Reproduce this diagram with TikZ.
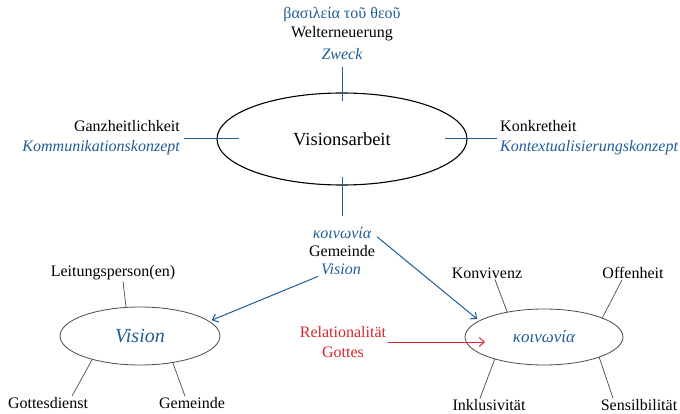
\documentclass[tikz,border=0pt]{standalone}
\usepackage{fontspec}
\setmainfont{Liberation Serif}
\usetikzlibrary{shapes.geometric,arrows.meta,calc}
\definecolor{gblue}{HTML}{1F5C99}
\definecolor{gred}{HTML}{D7262B}
\definecolor{ggray}{HTML}{4A4A4A}
\begin{document}
\begin{tikzpicture}[x=1pt,y=-1pt,
  lbl/.style={inner sep=1pt, font=\fontsize{16}{20}\selectfont},
  ilbl/.style={inner sep=1pt, font=\fontsize{16}{20}\selectfont\itshape},
  bl/.style={gblue, line width=1pt},
  gl/.style={ggray, line width=0.7pt},
  barrow/.style={gblue, line width=1pt, -{Straight Barb[length=5pt,width=9pt]}},
  rarrow/.style={gred, line width=1pt, -{Straight Barb[length=5pt,width=9pt]}},
  ell/.style={ellipse, inner sep=0pt, outer sep=0pt}
  ]
\useasboundingbox (0,0) rectangle (680,414);

% central ellipse
\node[ell, draw, line width=1.1pt, minimum width=250pt, minimum height=92pt,
  font=\fontsize{18.5}{22}\selectfont] (va) at (342,139) {Visionsarbeit};

% top
\node[lbl, text=gblue] (t1) at (342,15) {βασιλεία τοῦ θεοῦ};
\node[lbl] (t2) at (342,34) {Welterneuerung};
\node[ilbl, text=gblue] (t3) at (342,54) {Zweck};
\draw[bl, shorten <=6pt] (t3.south) -- ($(va.north)+(0,8)$);

% left
\node[lbl, align=right, anchor=east] (gz) at (181,138)
  {Ganzheitlichkeit\\\textcolor{gblue}{\itshape Kommunikationskonzept}};
\draw[bl, shorten <=3pt] (gz.east |- va.west) -- ($(va.west)+(22,0)$);

% right
\node[lbl, align=left, anchor=west] (kr) at (499,138)
  {Konkretheit\\\textcolor{gblue}{\itshape Kontextualisierungskonzept}};
\draw[bl, shorten <=2pt] (kr.west |- va.east) -- ($(va.east)+(-22,0)$);

% bottom of central
\node[ilbl, text=gblue] (k1) at (342,233) {κοινωνία};
\node[lbl] (k2) at (342,251) {Gemeinde};
\node[ilbl, text=gblue] (k3) at (341,269) {Vision};
\draw[bl, shorten >=10pt] ($(va.south)+(0,-8)$) -- (k1.north);

% left ellipse
\node[ell, draw=ggray, line width=0.8pt, minimum width=160pt, minimum height=58pt,
  font=\fontsize{20}{22}\selectfont\itshape, text=gblue] (lv) at (140,336) {Vision};
% right ellipse
\node[ell, draw=ggray, line width=0.8pt, minimum width=158pt, minimum height=56pt,
  font=\fontsize{17}{20}\selectfont\itshape, text=gblue] (ko) at (544,337) {κοινωνία};

% arrows
\draw[barrow, shorten <=6pt, shorten >=3pt] (k1.east) -- (ko.166);
\draw[barrow, shorten <=2pt, shorten >=3pt] (k3.south west) -- (lv.12);

% left ellipse labels
\node[lbl] (lp) at (113,273) {Leitungsperson(en)};
\draw[gl] ($(lp.south)+(10,0)$) -- (lv.116);
\node[lbl] (gd) at (48,403) {Gottesdienst};
\draw[gl] ($(gd.north)+(24,0)$) -- (lv.206);
\node[lbl] (gm) at (192,403) {Gemeinde};
\draw[gl] ($(gm.north)+(-7,0)$) -- (lv.321);

% right ellipse labels
\node[lbl] (kv) at (487,273) {Konvivenz};
\draw[gl] ($(kv.south)+(8,0)$) -- (ko.146);
\node[lbl] (of) at (633,273) {Offenheit};
\draw[gl] ($(of.south)+(-11,0)$) -- (ko.18);
\node[lbl] (ik) at (489,405) {Inklusivität};
\draw[gl] ($(ik.north)+(-9,0)$) -- (ko.204);
\node[lbl] (sb) at (639,405) {Sensilbilität};
\draw[gl] ($(sb.north)+(-26,0)$) -- (ko.340);

% red
\node[lbl, text=gred, align=center] (rg) at (343,342) {Relationalität\\Gottes};
\draw[rarrow, shorten <=1pt] (rg.east) -- (rg.east -| {$(ko.west)+(20,0)$});
\end{tikzpicture}
\end{document}
